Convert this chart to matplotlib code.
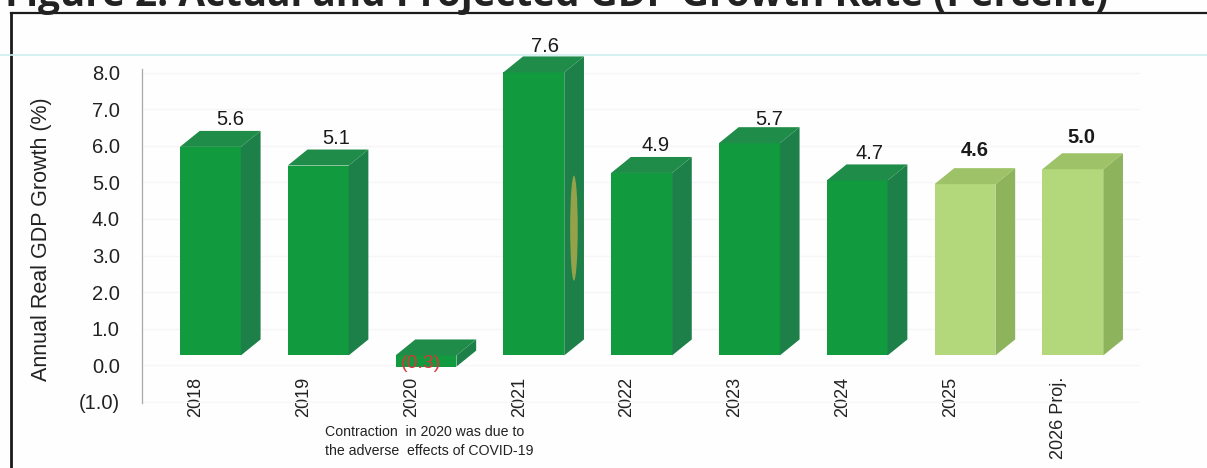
import matplotlib
matplotlib.use('Agg')
import matplotlib.pyplot as plt
from matplotlib.lines import Line2D
from matplotlib.patches import Polygon, Ellipse

plt.rcParams['font.family'] = ['Liberation Sans', 'DejaVu Sans']

years = ['2018', '2019', '2020', '2021', '2022', '2023', '2024', '2025', '2026 Proj.']
growth = [5.6, 5.1, -0.3, 7.6, 4.9, 5.7, 4.7, 4.6, 5.0]
value_labels = ['5.6', '5.1', '(0.3)', '7.6', '4.9', '5.7', '4.7', '4.6', '5.0']
projected = [False, False, False, False, False, False, False, True, True]
y_ticks = [-1, 0, 1, 2, 3, 4, 5, 6, 7, 8]
y_tick_labels = ['(1.0)', '0.0', '1.0', '2.0', '3.0', '4.0', '5.0', '6.0', '7.0', '8.0']

W, H = 1207, 468
fig = plt.figure(figsize=(W / 100, H / 100), dpi=100, facecolor='#fefefe')

# axes box in pixels, the left spine is the visible y axis
left, right, top, bottom = 142, 1140, 69, 403
ax = fig.add_axes([left / W, 1 - bottom / H, (right - left) / W, (bottom - top) / H])
ax.set_facecolor('none')
ax.set_xlim(-0.5, 8.758)
ax.set_ylim(-1.03, 8.1)

# the front of the 3D bars sits above and slightly stretched against the axis
floor = 0.27
stretch = 1.018
bar_shift = -0.148
bar_w = 0.565
depth_x = 0.183
depth_y = 0.437

colors_actual = {'front': '#129a3f', 'side': '#1d8049', 'top': '#1f8c49'}
colors_proj = {'front': '#b3d87c', 'side': '#8db45c', 'top': '#9dc267'}

# label nudges as seen in the chart (x in categories, y in units)
label_dx = [0.09, 0.08, 0.0, 0.01, 0.04, 0.09, 0.02, 0.0, -0.01]
label_dy = [0.30, 0.30, 0.0, 0.27, 0.30, 0.22, 0.30, 0.49, 0.44]

for i, val in enumerate(growth):
    c = colors_proj if projected[i] else colors_actual
    x0 = i + bar_shift
    x1 = x0 + bar_w
    y_base = floor + min(val, 0) * stretch
    y_top = floor + max(val, 0) * stretch
    ax.add_patch(Polygon([(x0, y_base), (x1, y_base), (x1, y_top), (x0, y_top)],
                         facecolor=c['front'], edgecolor='none', clip_on=False, zorder=3))
    ax.add_patch(Polygon([(x1, y_base), (x1 + depth_x, y_base + depth_y),
                          (x1 + depth_x, y_top + depth_y), (x1, y_top)],
                         facecolor=c['side'], edgecolor='none', clip_on=False, zorder=3))
    ax.add_patch(Polygon([(x0, y_top), (x1, y_top), (x1 + depth_x, y_top + depth_y),
                          (x0 + depth_x, y_top + depth_y)],
                         facecolor=c['top'], edgecolor='none', clip_on=False, zorder=3))
    if val < 0:
        ax.text(x0 + 0.235, y_base + 0.09, value_labels[i], color='#d8363c', fontsize=14,
                ha='center', va='center', zorder=5)
    else:
        ax.text(x0 + bar_w / 2 + label_dx[i] + depth_x / 2, y_top + depth_y + label_dy[i],
                value_labels[i], color='#1a1a1a', fontsize=14.5, ha='center', va='center',
                fontweight='bold' if projected[i] else 'normal', zorder=5)

# stain from the scan on the side of the 2021 bar
ax.add_patch(Ellipse((3 + bar_shift + bar_w + 0.09, 3.75), 0.07, 2.87,
                     facecolor='#a3a64a', edgecolor='none', alpha=0.9, zorder=4))

ax.set_yticks(y_ticks)
ax.set_yticklabels(y_tick_labels, fontsize=14.5, color='#222222')
ax.set_xticks(range(len(years)))
ax.set_xticklabels(years, rotation=90, fontsize=13, color='#222222')
ax.tick_params(axis='x', length=0, pad=-19)
ax.tick_params(axis='y', length=0, pad=16)
ax.grid(axis='y', color='#f6f6f6', linewidth=1)
ax.set_axisbelow(True)
for s in ['top', 'right', 'bottom']:
    ax.spines[s].set_visible(False)
ax.spines['left'].set_color('#a8a8a8')
ax.spines['left'].set_linewidth(0.9)

ax.set_ylabel('Annual Real GDP Growth (%)', fontsize=15.5, color='#222222')
ax.yaxis.set_label_coords((52 - left) / (right - left), (bottom - 239) / (bottom - top))

fig.text(325 / W, 1 - 432 / H, 'Contraction  in 2020 was due to', fontsize=10.2,
         color='#222222', ha='left', va='center')
fig.text(325 / W, 1 - 451 / H, 'the adverse  effects of COVID-19', fontsize=10.2,
         color='#222222', ha='left', va='center')

# title cut off by the top of the crop, frame and faint rule
fig.text(557 / W, 1 - 6 / H, 'Figure 2: Actual and Projected GDP Growth Rate (Percent)',
         fontsize=27.9, fontweight='bold', family='Open Sans', color='#222222',
         ha='center', va='baseline')
fig.add_artist(Line2D([11 / W, 11 / W], [0, 1 - 13 / H], color='#1a1a1a', linewidth=2))
fig.add_artist(Line2D([11 / W, 1], [1 - 13 / H, 1 - 13 / H], color='#1a1a1a', linewidth=1.6))
fig.add_artist(Line2D([0, 1], [1 - 55 / H, 1 - 55 / H], color='#cdeeee', linewidth=1.2))

fig.savefig('out.png', dpi=100, facecolor=fig.get_facecolor())
